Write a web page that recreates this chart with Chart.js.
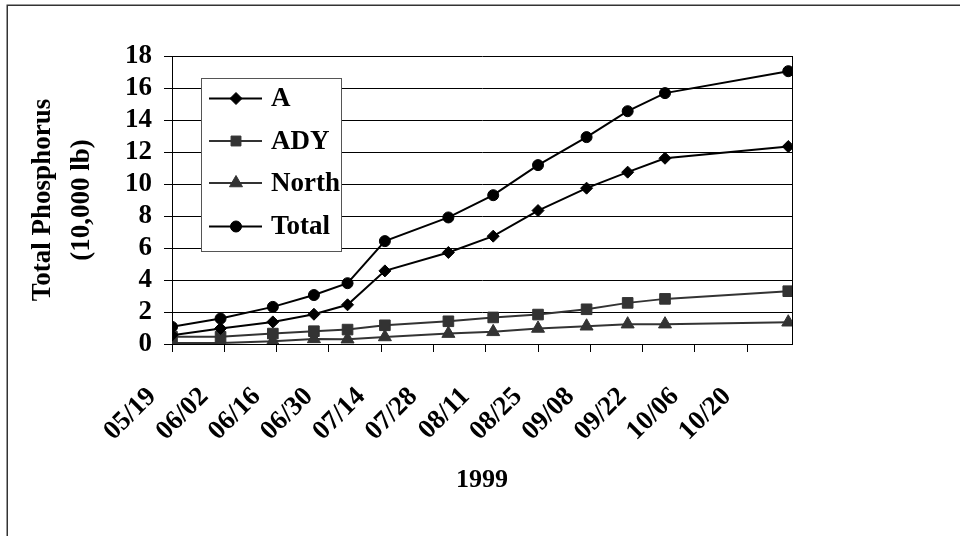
<!DOCTYPE html>
<html>
<head>
<meta charset="utf-8">
<script src="https://cdn.jsdelivr.net/npm/chart.js@4.4.1/dist/chart.umd.min.js"></script>
<style>
  html, body { margin: 0; padding: 0; background: #fff; }
  canvas { display: block; }
</style>
</head>
<body>
<canvas id="c" width="960" height="536"></canvas>
<script>
// ---- data ----
const sampleDates = ['05/19','06/01','06/15','06/26','07/05','07/15','08/01','08/13','08/25','09/07','09/18','09/28','10/31'];
const seriesA     = [0.55, 0.97, 1.38, 1.86, 2.45, 4.57, 5.72, 6.74, 8.34, 9.74, 10.74, 11.61, 12.34];
const seriesADY   = [0.45, 0.45, 0.65, 0.80, 0.90, 1.17, 1.42, 1.66, 1.84, 2.17, 2.57, 2.82, 3.30];
const seriesNorth = [0.06, 0.06, 0.17, 0.32, 0.30, 0.44, 0.65, 0.76, 0.97, 1.11, 1.24, 1.24, 1.36];
const seriesTotal = [1.07, 1.59, 2.32, 3.06, 3.80, 6.43, 7.91, 9.30, 11.18, 12.93, 14.55, 15.68, 17.05];
const tickDates   = ['05/19','06/02','06/16','06/30','07/14','07/28','08/11','08/25','09/08','09/22','10/06','10/20'];
const axisStartDate = '05/19';
const axisEndDate   = '11/01';
const yTicks = [0, 2, 4, 6, 8, 10, 12, 14, 16, 18];
const yearLabel = '1999';
const yTitle = ['Total Phosphorus', '(10,000 lb)'];

function dayOf(mmdd) {
  const [m, d] = mmdd.split('/').map(Number);
  const [m0, d0] = axisStartDate.split('/').map(Number);
  return Math.round((Date.UTC(1999, m - 1, d) - Date.UTC(1999, m0 - 1, d0)) / 86400000);
}
function pts(values) { return sampleDates.map((d, i) => ({ x: dayOf(d), y: values[i] })); }
const tickLabelByDay = {};
tickDates.forEach(t => { tickLabelByDay[dayOf(t)] = t; });

const FONT = "'Liberation Serif', 'Times New Roman', serif";
const GRAY = '#333333';

const datasets = [
  { label: 'A', data: pts(seriesA), borderColor: '#000', backgroundColor: '#000', pointStyle: 'rectRot', pointRadius: 6, borderWidth: 2 },
  { label: 'ADY', data: pts(seriesADY), borderColor: GRAY, backgroundColor: GRAY, pointStyle: 'rect', pointRadius: 7.5, borderWidth: 2 },
  { label: 'North', data: pts(seriesNorth), borderColor: GRAY, backgroundColor: GRAY, pointStyle: 'triangle', pointRadius: 7.5, borderWidth: 2 },
  { label: 'Total', data: pts(seriesTotal), borderColor: '#000', backgroundColor: '#000', pointStyle: 'circle', pointRadius: 5.5, borderWidth: 2 }
].map(d => Object.assign(d, { tension: 0, pointBorderWidth: 1, pointBorderColor: d.borderColor, pointBackgroundColor: d.backgroundColor, fill: false }));

function drawMarker(ctx, style, x, y, r, color) {
  ctx.save();
  ctx.fillStyle = color; ctx.strokeStyle = color; ctx.lineWidth = 1;
  ctx.beginPath();
  if (style === 'rectRot') {
    ctx.moveTo(x - r, y); ctx.lineTo(x, y - r); ctx.lineTo(x + r, y); ctx.lineTo(x, y + r); ctx.closePath();
  } else if (style === 'rect') {
    const s = Math.SQRT1_2 * r; ctx.rect(x - s, y - s, 2 * s, 2 * s);
  } else if (style === 'triangle') {
    for (let k = 0; k < 3; k++) {
      const a = -Math.PI / 2 + k * 2 * Math.PI / 3;
      const px = x + Math.cos(a) * r, py = y + Math.sin(a) * r;
      if (k === 0) ctx.moveTo(px, py); else ctx.lineTo(px, py);
    }
    ctx.closePath();
  } else {
    ctx.arc(x, y, r, 0, Math.PI * 2);
  }
  ctx.fill(); ctx.stroke();
  ctx.restore();
}

const framePlugin = {
  id: 'frame',
  beforeDraw(chart) {
    const ctx = chart.ctx;
    ctx.save();
    ctx.fillStyle = '#fff';
    ctx.fillRect(0, 0, chart.width, chart.height);
    ctx.strokeStyle = '#333';
    ctx.lineWidth = 1.5;
    ctx.beginPath();
    ctx.moveTo(7.25, chart.height); ctx.lineTo(7.25, 5.25); ctx.lineTo(chart.width, 5.25);
    ctx.stroke();
    ctx.restore();
  },
  afterDatasetsDraw(chart) {
    const ctx = chart.ctx, a = chart.chartArea;
    ctx.save();
    ctx.strokeStyle = '#000'; ctx.lineWidth = 1;
    ctx.beginPath();
    ctx.moveTo(Math.round(a.right) + 0.5, a.top); ctx.lineTo(Math.round(a.right) + 0.5, a.bottom);
    ctx.stroke();
    // legend box
    const bx = 201.5, by = 78.5, bw = 140, bh = 173;
    ctx.fillStyle = '#fff';
    ctx.fillRect(bx, by, bw, bh);
    ctx.strokeStyle = '#555'; ctx.lineWidth = 1;
    ctx.strokeRect(bx, by, bw, bh);
    const rows = [98.5, 141, 183, 226.5];
    chart.data.datasets.forEach((ds, i) => {
      const y = rows[i];
      ctx.strokeStyle = ds.borderColor; ctx.lineWidth = 2;
      ctx.beginPath(); ctx.moveTo(209, y); ctx.lineTo(262, y); ctx.stroke();
      drawMarker(ctx, ds.pointStyle, 236, y, ds.pointStyle === 'rect' ? 7 : ds.pointRadius, ds.backgroundColor);
      ctx.fillStyle = '#000';
      ctx.font = 'bold 27px ' + FONT;
      ctx.textAlign = 'left'; ctx.textBaseline = 'middle';
      ctx.fillText(ds.label, 271, y + 1);
    });
    ctx.restore();
  }
};

new Chart(document.getElementById('c'), {
  type: 'line',
  data: { datasets },
  plugins: [framePlugin],
  options: {
    responsive: false,
    devicePixelRatio: 1,
    animation: false,
    layout: { padding: { left: 8, top: 56, right: 168, bottom: 0 } },
    plugins: { legend: { display: false }, tooltip: { enabled: false } },
    scales: {
      x: {
        type: 'linear',
        min: 0,
        max: dayOf(axisEndDate),
        afterBuildTicks: s => { s.ticks = tickDates.map(t => ({ value: dayOf(t) })); },
        afterFit: s => { s.height = 192; },
        grid: { drawOnChartArea: false, drawTicks: true, tickLength: 8, color: '#000', lineWidth: 1 },
        border: { color: '#000', width: 1 },
        ticks: {
          autoSkip: false, maxRotation: 45, minRotation: 45,
          padding: 29, labelOffset: -20,
          color: '#000',
          font: { family: FONT, size: 27, weight: 'bold' },
          callback: v => tickLabelByDay[v] || ''
        },
        title: {
          display: true, text: yearLabel, color: '#000',
          font: { family: FONT, size: 26, weight: 'bold', lineHeight: 1.2 },
          padding: { top: 0, bottom: 40 }
        }
      },
      y: {
        min: 0, max: 18,
        afterBuildTicks: s => { s.ticks = yTicks.map(v => ({ value: v })); },
        afterFit: s => { s.width = 164; },
        grid: { color: '#000', lineWidth: 1, drawTicks: true, tickLength: 8 },
        border: { color: '#000', width: 1 },
        ticks: {
          autoSkip: false,
          padding: 12, color: '#000',
          font: { family: FONT, size: 27, weight: 'bold' }
        },
        title: {
          display: true, text: yTitle, color: '#000',
          font: { family: FONT, size: 27, weight: 'bold', lineHeight: 1.46 },
          padding: { top: 15, bottom: 0 }
        }
      }
    }
  }
});
</script>
</body>
</html>
